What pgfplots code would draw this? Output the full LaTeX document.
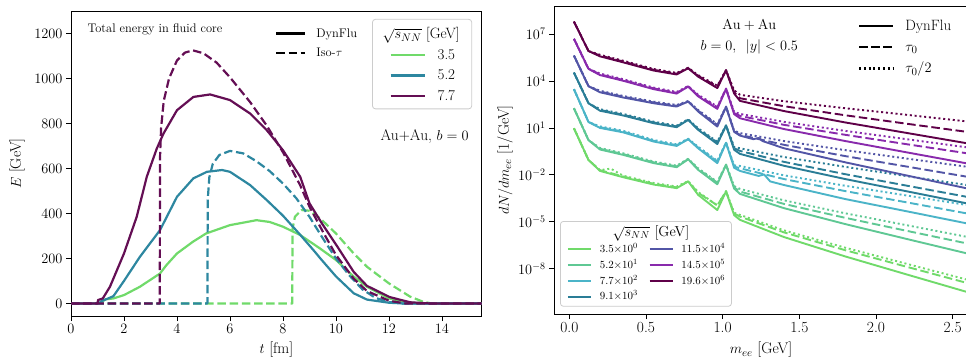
\documentclass[border=0pt]{standalone}
\usepackage{pgfplots}
\pgfplotsset{compat=1.18}
\definecolor{L35}{RGB}{112,218,106}
\definecolor{L52}{RGB}{45,135,160}
\definecolor{L77}{RGB}{100,14,84}
\definecolor{c35}{RGB}{112,218,106}
\definecolor{c52}{RGB}{95,200,148}
\definecolor{c77}{RGB}{75,180,200}
\definecolor{c91}{RGB}{42,125,150}
\definecolor{c115}{RGB}{82,85,166}
\definecolor{c145}{RGB}{137,42,172}
\definecolor{c196}{RGB}{95,0,72}
\definecolor{lgframe}{RGB}{204,204,204}
\pgfplotsset{
  every axis/.append style={
    scale only axis, anchor=south west,
    tick align=outside, tick pos=left, major tick length=5bp,
    axis line style={line width=0.8bp},
    every tick/.style={line width=0.8bp, black},
    tick label style={font=\fontsize{15.5}{18}\selectfont},
    label style={font=\fontsize{15.5}{18}\selectfont},
    legend cell align=left,
  },
  every axis plot/.append style={line join=round},
  dsh/.style={dash pattern=on 8.5bp off 3.7bp},
  dtt/.style={dash pattern=on 2bp off 2.8bp},
  lw/.style={line width=2.2bp},
  rw/.style={line width=1.9bp},
}
\begin{document}
\begin{tikzpicture}
\useasboundingbox (0,0) rectangle (966bp,362bp);
% ================= LEFT PANEL =================
\begin{axis}[
  at={(71bp,46bp)}, width=410.7bp, height=305bp,
  xmin=0, xmax=15.5, ymin=-56, ymax=1300,
  xtick={0,2,...,14}, ytick={0,200,...,1200},
  scaled y ticks=false, /pgf/number format/1000 sep={},
  xlabel={$t$ [fm]}, ylabel={$E$ [GeV]},
  xlabel style={at={(axis description cs:0.5,-0.1115)}, anchor=center},
  ylabel style={at={(axis description cs:-0.1315,0.5)}, anchor=center},
  legend image code/.code={\path (0bp,0bp) (43bp,0bp); \draw[#1] (9bp,0bp) -- (43bp,0bp);},
  legend style={at={(0.733,0.974)}, anchor=north west, draw=lgframe, line width=0.8bp,
    rounded corners=3bp, fill=white, fill opacity=0.8, draw opacity=1, text opacity=1,
    inner xsep=8bp, inner ysep=6.7bp, row sep=8.7bp, column sep=12bp,
    font=\fontsize{15}{18}\selectfont, nodes={inner sep=0pt}},
]
% 3.5 GeV
\addplot[L35, lw, forget plot] coordinates {
(0,0)(1.0,0)(1.1,3)(1.3,18)(1.6,22)(2.0,37)(2.6,74)(3.36,133)(3.6,170)(4.0,222)(4.6,274)(5.1,311)(6.0,348)(7.0,370)(7.5,362)(8.0,341)(8.65,304)(9.4,244)(10.0,193)(10.67,119)(11.17,74)(12.0,22)(12.8,3)(13.5,0)(15.5,0)};
\addplot[L35, lw, dsh, forget plot] coordinates {
(0,0)(8.35,0)(8.36,330)(8.45,385)(8.7,415)(9.0,412)(9.4,378)(10.0,311)(10.67,222)(11.17,163)(12.0,89)(12.8,30)(13.3,7)(13.6,0)(15.5,0)};
% 5.2 GeV
\addplot[L52, lw, forget plot] coordinates {
(0,0)(1.05,0)(1.15,10)(1.4,22)(1.6,32)(2.0,100)(2.6,207)(3.36,326)(4.0,474)(4.62,556)(5.13,585)(5.7,593)(6.0,585)(6.76,526)(7.39,459)(8.0,390)(8.65,305)(9.2,230)(9.41,200)(10.0,120)(10.67,45)(11.17,17)(12.0,3)(12.5,0)(15.5,0)};
\addplot[L52, lw, dsh, forget plot] coordinates {
(0,0)(5.15,0)(5.16,460)(5.22,560)(5.35,620)(5.6,660)(6.0,678)(6.5,667)(7.0,632)(7.5,588)(8.0,533)(8.5,468)(9.0,385)(9.5,290)(10.0,200)(10.5,125)(11.0,62)(11.5,24)(12.0,6)(12.5,0)(15.5,0)};
% 7.7 GeV
\addplot[L77, lw, forget plot] coordinates {
(0,0)(1.0,0)(1.02,15)(1.2,22)(1.47,74)(2.0,222)(2.48,385)(2.86,563)(3.24,689)(3.49,755)(4.0,859)(4.62,918)(5.25,929)(6.0,904)(6.76,844)(7.39,770)(8.0,681)(8.65,563)(9.0,445)(9.5,350)(10.0,262)(10.67,140)(11.17,78)(12.03,28)(12.8,5)(13.5,0)(15.5,0)};
\addplot[L77, lw, dsh, forget plot] coordinates {
(0,0)(3.35,0)(3.36,650)(3.4,780)(3.5,900)(3.7,1000)(4.0,1080)(4.3,1115)(4.6,1125)(5.0,1112)(5.5,1070)(6.0,1005)(6.76,895)(7.39,790)(8.0,672)(8.65,525)(9.0,430)(9.5,320)(10.0,215)(10.67,110)(11.17,55)(12.0,12)(12.6,0)(15.5,0)};
\addlegendimage{empty legend}
\addlegendentry{\hspace*{-55bp}\rule[-5.05bp]{0pt}{17.6bp}\smash{$\sqrt{s_{NN}}$ [GeV]}\hspace*{4bp}}
\addlegendimage{L35, lw}
\addlegendentry{\rule[-3.5bp]{0pt}{14bp}3.5}
\addlegendimage{L52, lw}
\addlegendentry{\rule[-3.5bp]{0pt}{14bp}5.2}
\addlegendimage{L77, lw}
\addlegendentry{\rule[-3.5bp]{0pt}{14bp}7.7}
\node[anchor=west, font=\fontsize{12.5}{15}\selectfont] at (rel axis cs:0.0317,0.941) {Total energy in fluid core};
\node[font=\fontsize{15.5}{18}\selectfont] at (rel axis cs:0.861,0.587) {Au+Au, $b=0$};
\end{axis}
% style legend left
\begin{axis}[
  at={(71bp,46bp)}, width=410.7bp, height=305bp, hide axis,
  xmin=0, xmax=1, ymin=0, ymax=1,
  legend image code/.code={\draw[#1] (0bp,0bp) -- (29bp,0bp);},
  legend style={at={(0.4967,0.944)}, anchor=north west, draw=none, fill=none,
    inner sep=0pt, row sep=9bp, column sep=10bp,
    font=\fontsize{12.5}{15}\selectfont, nodes={inner sep=0pt}},
]
\addlegendimage{black, lw}
\addlegendentry{\rule[-3bp]{0pt}{12bp}DynFlu}
\addlegendimage{black, lw, dsh}
\addlegendentry{\rule[-3bp]{0pt}{12bp}\smash{Iso-$\tau$}}
\end{axis}
% ================= RIGHT PANEL =================
\begin{axis}[
  at={(554bp,48bp)}, width=414bp, height=308bp,
  xmin=-0.1, xmax=2.6, ymode=log, ymin=1.26e-11, ymax=6.3e8,
  xtick={0,0.5,1,1.5,2,2.5}, xticklabels={0.0,0.5,1.0,1.5,2.0,2.5},
  ytick={1e-8,1e-5,1e-2,1e1,1e4,1e7}, yminorticks=false,
  yticklabel style={font=\fontsize{14.5}{17}\selectfont},
  xlabel={$m_{ee}$ [GeV]}, ylabel={$dN/dm_{ee}$ [1/GeV]},
  xlabel style={at={(axis description cs:0.5,-0.117)}, anchor=center},
  ylabel style={at={(axis description cs:-0.1184,0.5)}, anchor=center},
  legend columns=2,
  legend image code/.code={\draw[#1] (0bp,0bp) -- (23.3bp,0bp);},
  legend style={at={(0.0145,0.0237)}, anchor=south west, draw=lgframe, line width=0.8bp,
    rounded corners=3bp, fill=white, fill opacity=0.8, draw opacity=1, text opacity=1,
    inner xsep=6.5bp, inner ysep=5bp, row sep=6.3bp, column sep=7.7bp,
    /tikz/every even column/.append style={column sep=10.7bp},
    font=\fontsize{11}{13}\selectfont, nodes={inner sep=0pt}},
]
% ---- 3.5 ----
\addplot[c35, rw, forget plot] coordinates {
(0.03,9.55)(0.125,8.91e-2)(0.2,1.78e-2)(0.35,7.08e-3)(0.55,2.40e-3)(0.7,1.41e-3)(0.775,3.80e-3)(0.84,5.25e-4)(0.965,5.62e-5)(1.022,8.71e-4)(1.075,2.63e-5)(1.113,1.32e-5)(1.4,1.05e-6)(1.8,6.03e-8)(2.2,4.27e-9)(2.6,3.09e-10)};
\addplot[c35, rw, dsh, forget plot] coordinates {
(0.03,9.55)(0.125,8.91e-2)(0.2,2.00e-2)(0.35,7.94e-3)(0.55,2.69e-3)(0.7,1.58e-3)(0.775,3.80e-3)(0.84,7.08e-4)(0.965,1.12e-4)(1.022,8.71e-4)(1.075,3.39e-5)(1.113,2.14e-5)(1.4,2.09e-6)(1.8,1.51e-7)(2.2,1.32e-8)(2.6,1.17e-9)};
\addplot[c35, rw, dtt, forget plot] coordinates {
(0.03,9.55)(0.125,8.91e-2)(0.2,2.00e-2)(0.27,2.51e-2)(0.35,8.91e-3)(0.55,3.02e-3)(0.7,1.78e-3)(0.775,3.98e-3)(0.84,7.94e-4)(0.965,1.12e-4)(1.022,9.12e-4)(1.075,3.80e-5)(1.113,2.75e-5)(1.4,2.82e-6)(1.8,2.19e-7)(2.2,2.04e-8)(2.6,1.91e-9)};
% ---- 5.2 ----
\addplot[c52, rw, forget plot] coordinates {
(0.03,1.82e2)(0.125,1.66)(0.2,4.17e-1)(0.35,1.91e-1)(0.55,5.62e-2)(0.7,3.09e-2)(0.775,1.00e-1)(0.84,2.09e-2)(0.965,2.51e-3)(1.022,4.37e-2)(1.075,1.32e-3)(1.113,6.03e-4)(1.4,7.41e-5)(1.8,7.08e-6)(2.2,7.94e-7)(2.6,9.12e-8)};
\addplot[c52, rw, dsh, forget plot] coordinates {
(0.03,1.82e2)(0.125,1.66)(0.2,4.68e-1)(0.35,2.14e-1)(0.55,6.31e-2)(0.7,3.47e-2)(0.775,1.00e-1)(0.84,2.34e-2)(0.965,3.16e-3)(1.022,4.37e-2)(1.075,1.58e-3)(1.113,8.51e-4)(1.4,1.38e-4)(1.8,1.78e-5)(2.2,2.63e-6)(2.6,3.98e-7)};
\addplot[c52, rw, dtt, forget plot] coordinates {
(0.03,1.82e2)(0.125,1.66)(0.2,5.25e-1)(0.35,2.40e-1)(0.55,7.08e-2)(0.7,3.89e-2)(0.775,1.07e-1)(0.84,2.63e-2)(0.965,3.55e-3)(1.022,4.57e-2)(1.075,1.91e-3)(1.113,1.26e-3)(1.4,2.34e-4)(1.8,3.47e-5)(2.2,6.03e-6)(2.6,1.05e-6)};
% ---- 7.7 ----
\addplot[c77, rw, forget plot] coordinates {
(0.03,3.02e3)(0.125,2.40e1)(0.2,1.00e1)(0.35,5.25)(0.55,1.35)(0.7,7.08e-1)(0.775,1.91)(0.84,5.01e-1)(0.965,5.62e-2)(1.022,1.12)(1.075,2.82e-2)(1.113,1.78e-2)(1.235,8.51e-3)(1.27,1.07e-2)(1.31,3.80e-3)(1.4,2.24e-3)(1.8,2.82e-4)(2.2,4.68e-5)(2.6,7.59e-6)};
\addplot[c77, rw, dsh, forget plot] coordinates {
(0.03,3.02e3)(0.125,2.40e1)(0.2,1.12e1)(0.35,5.89)(0.55,1.51)(0.7,7.94e-1)(0.775,1.91)(0.84,5.62e-1)(0.965,7.08e-2)(1.022,1.12)(1.075,3.39e-2)(1.113,2.63e-2)(1.4,5.37e-3)(1.8,9.12e-4)(2.2,1.74e-4)(2.6,3.31e-5)};
\addplot[c77, rw, dtt, forget plot] coordinates {
(0.03,3.02e3)(0.125,2.40e1)(0.2,1.26e1)(0.35,6.61)(0.55,1.70)(0.7,8.91e-1)(0.775,2.04)(0.84,6.31e-1)(0.965,7.94e-2)(1.022,1.17)(1.075,4.07e-2)(1.113,3.72e-2)(1.4,9.33e-3)(1.8,2.00e-3)(2.2,4.79e-4)(2.6,1.15e-4)};
% ---- 9.1 ----
\addplot[c91, rw, forget plot] coordinates {
(0.03,3.47e4)(0.125,3.80e2)(0.2,1.26e2)(0.35,6.31e1)(0.55,2.00e1)(0.7,1.12e1)(0.775,3.31e1)(0.84,7.59)(0.965,9.33e-1)(1.022,1.41e1)(1.075,3.98e-1)(1.113,2.19e-1)(1.4,3.80e-2)(1.8,5.37e-3)(2.2,8.91e-4)(2.6,1.45e-4)};
\addplot[c91, rw, dsh, forget plot] coordinates {
(0.03,3.47e4)(0.125,3.80e2)(0.2,1.41e2)(0.35,7.08e1)(0.55,2.24e1)(0.7,1.26e1)(0.775,3.31e1)(0.84,8.51)(0.965,1.17)(1.022,1.41e1)(1.075,5.01e-1)(1.113,3.39e-1)(1.4,6.76e-2)(1.8,1.10e-2)(2.2,2.04e-3)(2.6,3.80e-4)};
\addplot[c91, rw, dtt, forget plot] coordinates {
(0.03,3.47e4)(0.125,3.80e2)(0.2,1.58e2)(0.35,7.94e1)(0.55,2.51e1)(0.7,1.41e1)(0.775,3.55e1)(0.84,9.55)(0.965,1.32)(1.022,1.48e1)(1.075,6.03e-1)(1.113,5.01e-1)(1.4,1.38e-1)(1.8,3.24e-2)(2.2,8.32e-3)(2.6,2.19e-3)};
% ---- 11.5 ----
\addplot[c115, rw, forget plot] coordinates {
(0.03,4.27e5)(0.125,4.68e3)(0.2,1.91e3)(0.35,8.91e2)(0.55,3.80e2)(0.7,2.34e2)(0.775,4.90e2)(0.84,1.12e2)(0.965,1.23e1)(1.022,2.24e2)(1.075,5.62)(1.113,3.24)(1.2,1.91)(1.235,2.29)(1.26,1.45)(1.4,5.01e-1)(1.8,6.31e-2)(2.2,9.12e-3)(2.6,1.32e-3)};
\addplot[c115, rw, dsh, forget plot] coordinates {
(0.03,4.27e5)(0.125,4.68e3)(0.2,2.14e3)(0.35,1.00e3)(0.55,4.27e2)(0.7,2.63e2)(0.775,4.90e2)(0.84,1.26e2)(0.965,1.55e1)(1.022,2.24e2)(1.075,6.03)(1.113,3.63)(1.4,8.32e-1)(1.8,1.58e-1)(2.2,3.39e-2)(2.6,7.41e-3)};
\addplot[c115, rw, dtt, forget plot] coordinates {
(0.03,4.27e5)(0.125,4.68e3)(0.2,2.40e3)(0.35,1.12e3)(0.55,4.79e2)(0.7,2.95e2)(0.775,5.25e2)(0.84,1.41e2)(0.965,1.74e1)(1.022,2.34e2)(1.075,6.76)(1.113,4.68)(1.4,1.45)(1.8,3.80e-1)(2.2,1.10e-1)(2.6,3.24e-2)};
% ---- 14.5 ----
\addplot[c145, rw, forget plot] coordinates {
(0.03,5.01e6)(0.125,6.03e4)(0.2,2.40e4)(0.35,1.05e4)(0.55,3.02e3)(0.7,1.58e3)(0.775,4.47e3)(0.84,1.05e3)(0.965,1.66e2)(1.022,3.16e3)(1.075,7.59e1)(1.113,4.17e1)(1.4,8.51)(1.8,1.45)(2.2,2.75e-1)(2.6,5.25e-2)};
\addplot[c145, rw, dsh, forget plot] coordinates {
(0.03,5.01e6)(0.125,6.03e4)(0.2,2.69e4)(0.35,1.17e4)(0.55,3.39e3)(0.7,1.78e3)(0.775,4.47e3)(0.84,1.17e3)(0.965,2.09e2)(1.022,3.16e3)(1.075,8.91e1)(1.113,5.89e1)(1.4,1.58e1)(1.8,3.63)(2.2,9.12e-1)(2.6,2.34e-1)};
\addplot[c145, rw, dtt, forget plot] coordinates {
(0.03,5.01e6)(0.125,6.03e4)(0.2,3.02e4)(0.35,1.32e4)(0.55,3.80e3)(0.7,2.00e3)(0.775,4.79e3)(0.84,1.32e3)(0.965,2.34e2)(1.022,3.31e3)(1.075,1.05e2)(1.113,7.94e1)(1.4,2.45e1)(1.8,6.46)(2.2,1.91)(2.6,5.62e-1)};
% ---- 19.6 ----
\addplot[c196, rw, forget plot] coordinates {
(0.03,6.31e7)(0.125,8.32e5)(0.2,3.80e5)(0.35,1.58e5)(0.55,4.68e4)(0.7,2.63e4)(0.775,6.61e4)(0.84,1.91e4)(0.965,3.55e3)(1.022,4.79e4)(1.075,1.58e3)(1.113,5.37e2)(1.4,1.20e2)(1.8,2.24e1)(2.2,4.79)(2.6,1.02)};
\addplot[c196, rw, dsh, forget plot] coordinates {
(0.03,6.31e7)(0.125,8.32e5)(0.2,4.27e5)(0.35,1.78e5)(0.55,5.25e4)(0.7,2.95e4)(0.775,6.61e4)(0.84,2.14e4)(0.965,4.47e3)(1.022,4.79e4)(1.075,1.91e3)(1.113,7.94e2)(1.4,2.45e2)(1.8,6.46e1)(2.2,1.86e1)(2.6,5.50)};
\addplot[c196, rw, dtt, forget plot] coordinates {
(0.03,6.31e7)(0.125,8.32e5)(0.2,4.79e5)(0.35,2.00e5)(0.55,5.89e4)(0.7,3.31e4)(0.775,7.08e4)(0.84,2.40e4)(0.965,5.01e3)(1.022,5.01e4)(1.075,2.51e3)(1.113,1.32e3)(1.4,5.13e2)(1.8,1.82e2)(2.2,6.92e1)(2.6,2.57e1)};
% legend
\addlegendimage{empty legend}
\addlegendentry{\makebox[0pt][l]{\hspace*{12.3bp}\fontsize{14.5}{17}\selectfont\rule[-6.15bp]{0pt}{16.35bp}\smash{$\sqrt{s_{NN}}$ [GeV]}}}
\addlegendimage{empty legend}
\addlegendentry{}
\addlegendimage{c35, rw}
\addlegendentry{\rule[-2.5bp]{0pt}{10.5bp}\smash{$3.5{\times}10^{0}$}}
\addlegendimage{c115, rw}
\addlegendentry{\rule[-2.5bp]{0pt}{10.5bp}\smash{$11.5{\times}10^{4}$}}
\addlegendimage{c52, rw}
\addlegendentry{\rule[-2.5bp]{0pt}{10.5bp}\smash{$5.2{\times}10^{1}$}}
\addlegendimage{c145, rw}
\addlegendentry{\rule[-2.5bp]{0pt}{10.5bp}\smash{$14.5{\times}10^{5}$}}
\addlegendimage{c77, rw}
\addlegendentry{\rule[-2.5bp]{0pt}{10.5bp}\smash{$7.7{\times}10^{2}$}}
\addlegendimage{c196, rw}
\addlegendentry{\rule[-2.5bp]{0pt}{10.5bp}\smash{$19.6{\times}10^{6}$}}
\addlegendimage{c91, rw}
\addlegendentry{\rule[-2.5bp]{0pt}{10.5bp}\smash{$9.1{\times}10^{3}$}}
\node[font=\fontsize{15.5}{18}\selectfont] at (rel axis cs:0.4717,0.938) {$\mathrm{Au}+\mathrm{Au}$};
\node[font=\fontsize{15.5}{18}\selectfont] at (rel axis cs:0.4717,0.867) {$b=0,\ \,|y|<0.5$};
\end{axis}
% style legend right
\begin{axis}[
  at={(554bp,48bp)}, width=414bp, height=308bp, hide axis,
  xmin=0, xmax=1, ymin=0, ymax=1,
  legend image code/.code={\draw[#1] (0bp,0bp) -- (34bp,0bp);},
  legend style={at={(0.7336,0.9555)}, anchor=north west, draw=none, fill=none,
    inner sep=0pt, row sep=9.3bp, column sep=11.3bp,
    font=\fontsize{15}{18}\selectfont, nodes={inner sep=0pt}},
]
\addlegendimage{black, lw}
\addlegendentry{\rule[-3.5bp]{0pt}{14bp}DynFlu}
\addlegendimage{black, lw, dsh}
\addlegendentry{\rule[-3.5bp]{0pt}{14bp}\smash{$\tau_0$}}
\addlegendimage{black, lw, dtt}
\addlegendentry{\rule[-3.5bp]{0pt}{14bp}\smash{$\tau_0/2$}}
\end{axis}
\end{tikzpicture}
\end{document}
